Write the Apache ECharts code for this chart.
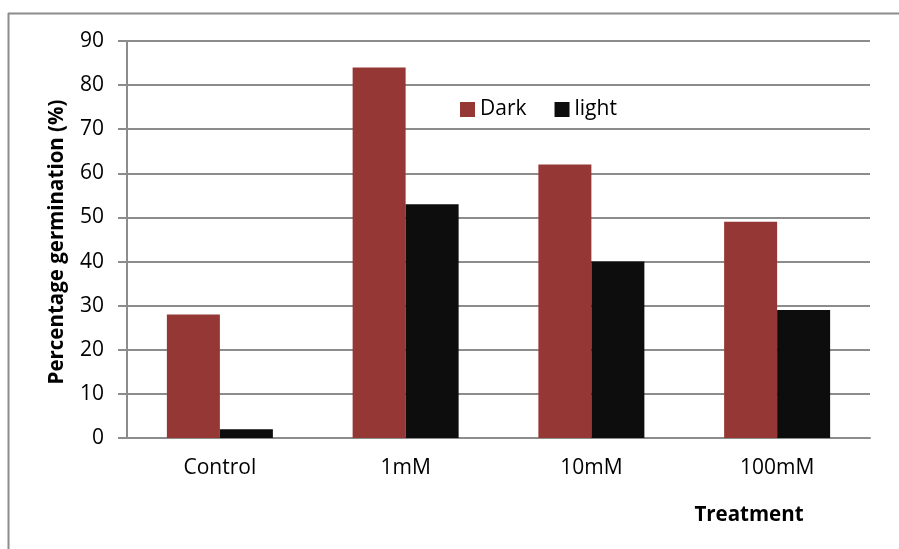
<!DOCTYPE html>
<html>
<head>
<meta charset="utf-8">
<script src="https://cdn.jsdelivr.net/npm/echarts@6/dist/echarts.min.js"></script>
<style>
  html, body { margin: 0; padding: 0; background: #fff; }
  #chart { width: 899px; height: 549px; }
</style>
</head>
<body>
<div id="chart"></div>
<script>
// Germination percentage by treatment, dark vs light
const categories = ['Control', '1mM', '10mM', '100mM'];
const darkValues = [28, 84, 62, 49];
const lightValues = [2, 53, 40, 29];
const yTicks = { min: 0, max: 90, interval: 10 };

const FONT = '"Open Sans", sans-serif';
const chart = echarts.init(document.getElementById('chart'), null, { renderer: 'canvas' });

chart.setOption({
  backgroundColor: '#ffffff',
  animation: false,
  textStyle: { fontFamily: FONT },
  grid: { left: 127, right: 29, top: 41, bottom: 111, containLabel: false },
  legend: {
    left: 455, top: 94,
    itemWidth: 15, itemHeight: 15, itemGap: 28,
    icon: 'rect',
    textStyle: { fontFamily: FONT, fontSize: 21, color: '#000' },
    data: ['Dark', 'light']
  },
  xAxis: {
    type: 'category',
    data: categories,
    axisLine: { show: true, lineStyle: { color: '#8c8c8c', width: 2 } },
    axisTick: { show: false },
    axisLabel: { fontFamily: FONT, fontSize: 21, color: '#000', margin: 20 }
  },
  yAxis: {
    type: 'value',
    min: yTicks.min, max: yTicks.max, interval: yTicks.interval,
    axisLine: { show: true, lineStyle: { color: '#8c8c8c', width: 2 } },
    axisTick: { show: true, length: 9, lineStyle: { color: '#8c8c8c', width: 2 } },
    axisLabel: { fontFamily: FONT, fontSize: 21, color: '#000', margin: 23 },
    splitLine: { show: true, lineStyle: { color: '#8c8c8c', width: 2 } }
  },
  series: [
    {
      name: 'Dark', type: 'bar', data: darkValues,
      barWidth: 53, barGap: '0%',
      itemStyle: { color: '#953735' }
    },
    {
      name: 'light', type: 'bar', data: lightValues,
      barWidth: 53, barGap: '0%',
      itemStyle: { color: '#0d0d0d' }
    }
  ],
  graphic: [
    // chart frame (left and top edges)
    { type: 'line', shape: { x1: 8.5, y1: 13, x2: 8.5, y2: 549 }, style: { stroke: '#8c8c8c', lineWidth: 2 } },
    { type: 'line', shape: { x1: 8, y1: 13.5, x2: 899, y2: 13.5 }, style: { stroke: '#8c8c8c', lineWidth: 2 } },
    {
      type: 'text', x: 57, y: 242, rotation: Math.PI / 2,
      style: { text: 'Percentage germination (%)', font: 'bold 20.5px ' + FONT, fill: '#000', align: 'center', verticalAlign: 'middle' }
    },
    {
      type: 'text', x: 749, y: 515,
      style: { text: 'Treatment', font: 'bold 20.5px ' + FONT, fill: '#000', align: 'center', verticalAlign: 'middle' }
    }
  ]
});
</script>
</body>
</html>
